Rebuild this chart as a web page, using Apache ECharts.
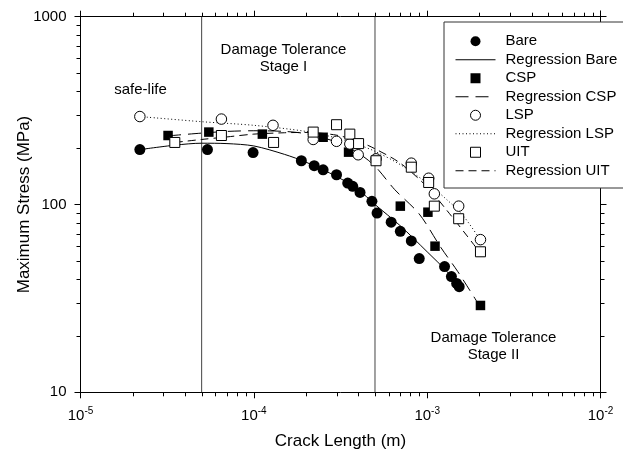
<!DOCTYPE html>
<html>
<head>
<meta charset="utf-8">
<script src="https://cdn.jsdelivr.net/npm/echarts@6/dist/echarts.min.js"></script>
<style>
  html, body { margin: 0; padding: 0; background: #fff; }
  #chart { width: 623px; height: 458px; }
</style>
</head>
<body>
<div id="chart"></div>
<script>
// measured points (crack length m, max stress MPa)
const bareX = [2.2e-5, 5.4e-5, 9.9e-5, 1.88e-4, 2.23e-4, 2.51e-4, 3.0e-4, 3.48e-4, 3.72e-4, 4.1e-4, 4.8e-4, 5.14e-4, 6.2e-4, 7.0e-4, 8.1e-4, 9.0e-4, 1.26e-3, 1.38e-3, 1.48e-3, 1.53e-3]
const bareY = [196, 196, 189, 171, 161, 153, 144, 130, 125, 116, 104, 90, 80.5, 72, 64, 51.5, 46.7, 41.3, 38, 36.5]

const cspX = [3.2e-5, 5.5e-5, 1.12e-4, 2.51e-4, 3.52e-4, 7.0e-4, 1.01e-3, 1.11e-3, 2.03e-3]
const cspY = [233, 243, 237, 228, 190, 98, 91, 60, 29]

const lspX = [2.2e-5, 6.5e-5, 1.29e-4, 2.2e-4, 3.0e-4, 3.58e-4, 4.0e-4, 5.07e-4, 8.1e-4, 1.02e-3, 1.1e-3, 1.52e-3, 2.03e-3]
const lspY = [294, 285, 264, 222, 217, 210, 184, 175, 166, 138, 114, 98, 65]

const uitX = [3.5e-5, 6.5e-5, 1.3e-4, 2.2e-4, 3.0e-4, 3.58e-4, 4.02e-4, 5.07e-4, 8.1e-4, 1.02e-3, 1.1e-3, 1.52e-3, 2.03e-3]
const uitY = [214, 233, 214, 243, 266, 237, 211, 171, 158, 131, 98, 84, 56]

// regression curves
const regBareX = [2.2e-5, 3.5e-5, 5e-5, 7e-5, 1e-4, 1.5e-4, 2e-4, 3e-4, 4e-4, 5e-4, 7e-4, 1e-3, 1.3e-3, 1.6e-3]
const regBareY = [196, 207, 212, 211, 205, 185, 168, 141, 120, 100, 77, 56, 44, 35]

const regCspX = [3.2e-5, 5e-5, 7e-5, 1e-4, 1.5e-4, 2e-4, 3e-4, 4e-4, 5e-4, 6.5e-4, 9e-4, 1.2e-3, 1.5e-3, 2e-3]
const regCspY = [232, 240, 245, 247, 245, 238, 215, 188, 160, 120, 89, 59, 44, 29]

const regLspX = [2.2e-5, 5e-5, 1e-4, 2e-4, 3e-4, 4e-4, 5e-4, 7e-4, 1e-3, 1.3e-3, 1.6e-3, 2e-3]
const regLspY = [294, 276, 264, 245, 226, 208, 192, 163, 130, 106, 88, 66]

const regUitX = [3.5e-5, 5e-5, 7e-5, 1e-4, 1.5e-4, 2e-4, 3e-4, 4e-4, 5e-4, 7e-4, 1e-3, 1.3e-3, 1.7e-3, 2e-3]
const regUitY = [214, 222, 229, 237, 241, 242, 234, 217, 198, 166, 124, 93, 68, 56]

const stageLimits = [5e-5, 5e-4]
const xRange = [1e-5, 1e-2]
const yRange = [10, 1000]
const xDecades = [1e-5, 1e-4, 1e-3]
const yDecades = [10, 100]

const font = 'Liberation Sans'
const pairs = (xs, ys) => xs.map((x, i) => [x, ys[i]])
const minorX = []
xDecades.forEach(d => { for (let m = 2; m < 10; m++) minorX.push(d * m) })
const minorY = []
yDecades.forEach(d => { for (let m = 2; m < 10; m++) minorY.push(d * m) })

const px = v => Math.round(v) + 0.5
const tickStyle = { stroke: '#000', lineWidth: 1 }

const axisCommon = {
  type: 'log',
  logBase: 10,
  nameMoveOverlap: false,
  axisLine: { lineStyle: { color: '#000', width: 1 } },
  axisTick: { inside: false, length: 6, lineStyle: { color: '#000' } },
  splitLine: { show: false }
}

const noSymbol = { opacity: 0 }
const square = 'path://M0,0L1,0L1,1L0,1Z'
const openStyle = { color: '#fff', borderColor: '#000', borderWidth: 1 }

const myChart = echarts.init(document.getElementById('chart'))

const option = {
  animation: false,
  backgroundColor: '#fff',
  textStyle: { fontFamily: font },
  grid: { left: 80.5, right: 22.5, top: 16.7, bottom: 65.7, outerBoundsMode: 'none', containLabel: false },
  xAxis: [
    {
      ...axisCommon,
      min: xRange[0],
      max: xRange[1],
      name: 'Crack Length (m)',
      nameLocation: 'middle',
      nameGap: 41,
      nameTextStyle: { fontSize: 17, color: '#000', fontFamily: font },
      axisLabel: {
        margin: 14,
        formatter: v => '{b|10}{s|' + Math.round(Math.log10(v)) + '}',
        rich: {
          b: { fontSize: 15, color: '#000', fontFamily: font },
          s: { fontSize: 10, color: '#000', fontFamily: font, padding: [0, 0, 9, 0] }
        }
      }
    },
    { ...axisCommon, min: xRange[0], max: xRange[1], position: 'top', axisLabel: { show: false } }
  ],
  yAxis: [
    {
      ...axisCommon,
      min: yRange[0],
      max: yRange[1],
      name: 'Maximum Stress (MPa)',
      nameLocation: 'middle',
      nameGap: 48,
      nameTextStyle: { fontSize: 17, color: '#000', fontFamily: font },
      axisLabel: { margin: 14, fontSize: 15, color: '#000', fontFamily: font, formatter: v => String(Math.round(v)) }
    },
    { ...axisCommon, min: yRange[0], max: yRange[1], position: 'right', axisLabel: { show: false } }
  ],
  legend: {
    orient: 'vertical',
    left: 444,
    top: 22,
    padding: [10, 9, 8, 11],
    itemGap: 0,
    itemWidth: 40,
    itemHeight: 10,
    borderColor: '#333',
    borderWidth: 1,
    backgroundColor: '#fff',
    lineStyle: { width: 1 },
    textStyle: { fontSize: 15, color: '#000', lineHeight: 18.5, fontFamily: font, padding: [0, 0, 0, 5] },
    data: [
      { name: 'Bare' },
      { name: 'Regression Bare', itemStyle: noSymbol },
      { name: 'CSP', icon: square },
      { name: 'Regression CSP', itemStyle: noSymbol },
      { name: 'LSP', itemStyle: openStyle },
      { name: 'Regression LSP', itemStyle: noSymbol },
      { name: 'UIT', icon: square, itemStyle: openStyle },
      { name: 'Regression UIT', itemStyle: noSymbol }
    ]
  },
  graphic: [
    { type: 'text', x: 140.5, y: 90, style: { text: 'safe-life', font: '15px ' + font, fill: '#000', align: 'center', verticalAlign: 'middle' } },
    { type: 'text', x: 283.5, y: 49.5, style: { text: 'Damage Tolerance', font: '15px ' + font, fill: '#000', align: 'center', verticalAlign: 'middle' } },
    { type: 'text', x: 283.5, y: 66.5, style: { text: 'Stage I', font: '15px ' + font, fill: '#000', align: 'center', verticalAlign: 'middle' } },
    { type: 'text', x: 493.5, y: 338, style: { text: 'Damage Tolerance', font: '15px ' + font, fill: '#000', align: 'center', verticalAlign: 'middle' } },
    { type: 'text', x: 493.5, y: 355, style: { text: 'Stage II', font: '15px ' + font, fill: '#000', align: 'center', verticalAlign: 'middle' } }
  ],
  series: [
    // stage boundaries (vertical lines)
    ...stageLimits.map(v => ({
      type: 'line',
      data: [[v, yRange[0]], [v, yRange[1]]],
      symbol: 'none',
      silent: true,
      lineStyle: { color: '#444', width: 1 },
      z: 1
    })),
    {
      name: 'Bare',
      type: 'scatter',
      data: pairs(bareX, bareY),
      symbol: 'circle',
      symbolSize: 11,
      itemStyle: { color: '#000', opacity: 1 },
      z: 4
    },
    {
      name: 'Regression Bare',
      type: 'line',
      data: pairs(regBareX, regBareY),
      symbol: 'none',
      smooth: 0.3,
      itemStyle: { color: '#000' },
      lineStyle: { color: '#000', width: 1, type: 'solid' },
      z: 3
    },
    {
      name: 'CSP',
      type: 'scatter',
      data: pairs(cspX, cspY),
      symbol: 'rect',
      symbolSize: 9.5,
      itemStyle: { color: '#000', opacity: 1 },
      z: 4
    },
    {
      name: 'Regression CSP',
      type: 'line',
      data: pairs(regCspX, regCspY),
      symbol: 'none',
      smooth: 0.3,
      itemStyle: { color: '#000' },
      lineStyle: { color: '#000', width: 1, type: [13, 7] },
      z: 3
    },
    {
      name: 'LSP',
      type: 'scatter',
      data: pairs(lspX, lspY),
      symbol: 'circle',
      symbolSize: 10.5,
      itemStyle: { ...openStyle, opacity: 1 },
      z: 4
    },
    {
      name: 'Regression LSP',
      type: 'line',
      data: pairs(regLspX, regLspY),
      symbol: 'none',
      smooth: 0.3,
      itemStyle: { color: '#000' },
      lineStyle: { color: '#000', width: 1, type: [1, 2.5] },
      z: 3
    },
    {
      name: 'UIT',
      type: 'scatter',
      data: pairs(uitX, uitY),
      symbol: 'rect',
      symbolSize: 10,
      itemStyle: { ...openStyle, opacity: 1 },
      z: 4
    },
    {
      name: 'Regression UIT',
      type: 'line',
      data: pairs(regUitX, regUitY),
      symbol: 'none',
      smooth: 0.3,
      itemStyle: { color: '#000' },
      lineStyle: { color: '#000', width: 1, type: [8, 5] },
      z: 3
    },
    {
      // minor ticks on bottom and top axes
      type: 'custom',
      silent: true,
      data: minorX.map(v => [v, yRange[0]]),
      renderItem: (params, api) => {
        const x = px(api.coord([api.value(0), yRange[0]])[0])
        const yb = api.coord([xRange[0], yRange[0]])[1]
        const yt = api.coord([xRange[0], yRange[1]])[1]
        return {
          type: 'group',
          children: [
            { type: 'line', shape: { x1: x, y1: yb, x2: x, y2: yb + 4 }, style: tickStyle },
            { type: 'line', shape: { x1: x, y1: yt, x2: x, y2: yt - 4 }, style: tickStyle }
          ]
        }
      }
    },
    {
      // minor ticks on left and right axes
      type: 'custom',
      silent: true,
      data: minorY.map(v => [xRange[0], v]),
      renderItem: (params, api) => {
        const y = px(api.coord([xRange[0], api.value(1)])[1])
        const xl = api.coord([xRange[0], yRange[0]])[0]
        const xr = api.coord([xRange[1], yRange[0]])[0]
        return {
          type: 'group',
          children: [
            { type: 'line', shape: { x1: xl, y1: y, x2: xl - 4, y2: y }, style: tickStyle },
            { type: 'line', shape: { x1: xr, y1: y, x2: xr + 4, y2: y }, style: tickStyle }
          ]
        }
      }
    }
  ]
}

myChart.setOption(option)
</script>
</body>
</html>
